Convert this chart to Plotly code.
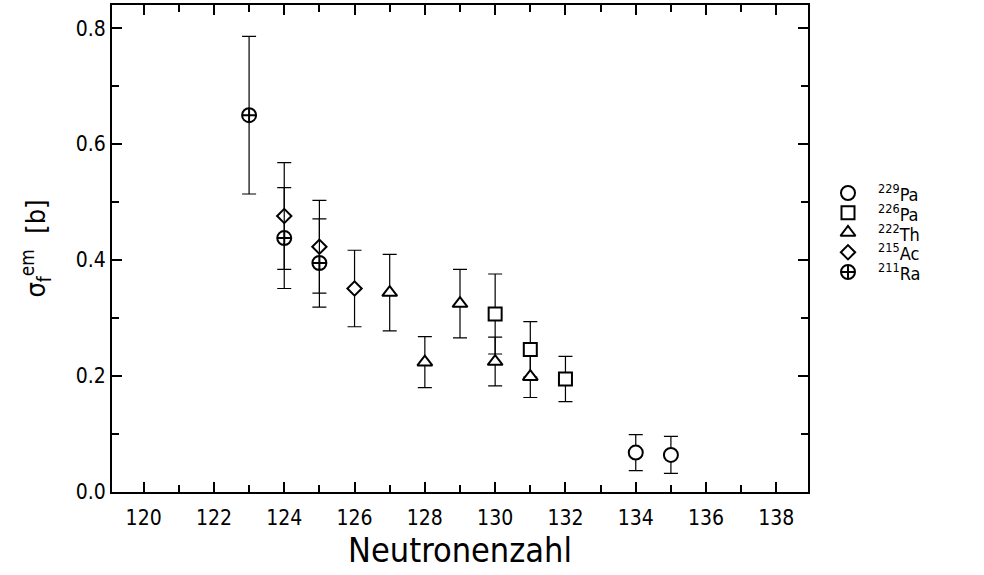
import plotly.graph_objects as go

# ---- data ----
pa229_n = [134, 135]
pa229_sig = [0.068, 0.064]
pa229_err = [0.031, 0.032]

pa226_n = [130, 131, 132]
pa226_sig = [0.307, 0.246, 0.195]
pa226_err = [0.069, 0.048, 0.039]

th222_n = [127, 128, 129, 130, 131]
th222_sig = [0.344, 0.224, 0.325, 0.225, 0.199]
th222_err = [0.066, 0.044, 0.059, 0.042, 0.036]

ac215_n = [124, 125, 126]
ac215_sig = [0.476, 0.423, 0.351]
ac215_err = [0.092, 0.080, 0.066]

ra211_n = [123, 124, 125]
ra211_sig = [0.650, 0.438, 0.395]
ra211_err = [0.136, 0.087, 0.076]

legend_labels = ["<sup>229</sup>Pa", "<sup>226</sup>Pa", "<sup>222</sup>Th",
                 "<sup>215</sup>Ac", "<sup>211</sup>Ra"]
symbols = ["circle", "square", "triangle-up", "diamond", "circle-cross"]
sizes = [14, 13, 13, 11, 14]

series = [
    (pa229_n, pa229_sig, pa229_err),
    (pa226_n, pa226_sig, pa226_err),
    (th222_n, th222_sig, th222_err),
    (ac215_n, ac215_sig, ac215_err),
    (ra211_n, ra211_sig, ra211_err),
]

FONT = "Liberation Sans Narrow, DejaVu Sans Condensed, Roboto Condensed, Roboto, sans-serif"

W, H = 984, 575
ML, MR, MT, MB = 112, 0, 5, 83
plot_w = W - ML - MR
main_frac = 696 / plot_w

fig = go.Figure()
for i, (x, y, e) in enumerate(series):
    fig.add_trace(go.Scatter(
        x=x, y=y, mode="markers", name=legend_labels[i], showlegend=False,
        marker=dict(symbol=symbols[i], size=sizes[i], color="white",
                    line=dict(color="black", width=2)),
        error_y=dict(type="data", array=e, visible=True,
                     color="black", thickness=1.2, width=7),
    ))

# hand-built legend on a hidden axis pair in the right margin
LEG_MARK_X = 38.4
LEG_TEXT_X = 66
for i, lab in enumerate(legend_labels):
    fig.add_trace(go.Scatter(
        x=[LEG_MARK_X], y=[i], xaxis="x2", yaxis="y2", mode="markers",
        showlegend=False, hoverinfo="skip",
        marker=dict(symbol=symbols[i], size=sizes[i], color="white",
                    line=dict(color="black", width=2)),
    ))
    fig.add_annotation(x=LEG_TEXT_X, y=i, xref="x2", yref="y2", text=lab,
                       showarrow=False, xanchor="left", yanchor="middle",
                       font=dict(size=18, family=FONT, color="black"))

tick_common = dict(ticks="inside", ticklen=10, tickwidth=1.5, tickcolor="black",
                   showline=True, linecolor="black", linewidth=2, mirror="ticks",
                   showgrid=False, zeroline=False, tickfont=dict(size=21))

fig.update_layout(
    width=W, height=H,
    margin=dict(l=ML, r=MR, t=MT, b=MB),
    paper_bgcolor="white", plot_bgcolor="white",
    font=dict(family=FONT, color="black", size=21),
    showlegend=False,
    xaxis=dict(
        domain=[0, main_frac],
        range=[119.1, 138.9], tickmode="linear", tick0=120, dtick=2,
        minor=dict(dtick=1, tick0=119, ticks="inside", ticklen=7, tickwidth=1.5,
                   tickcolor="black", showgrid=False),
        ticklabelstandoff=6,
        title=dict(text="Neutronenzahl", font=dict(size=34), standoff=8),
        **tick_common,
    ),
    yaxis=dict(
        range=[0, 0.84], tickmode="linear", tick0=0, dtick=0.2, tickformat=".1f",
        minor=dict(dtick=0.1, tick0=0, ticks="inside", ticklen=7, tickwidth=1.5,
                   tickcolor="black", showgrid=False),
        title=dict(text="σ<sub>f</sub><sup>em</sup>  [b]", font=dict(size=27), standoff=22),
        **tick_common,
    ),
    xaxis2=dict(domain=[0.80, 1.0], range=[0, 174.4], visible=False, anchor="y2"),
    yaxis2=dict(domain=[0.4314, 0.6343], range=[4.5, -0.5], visible=False, anchor="x2"),
)

fig.write_html("out.html", config={"displayModeBar": False},
               post_script="document.body.style.margin='0px';")
